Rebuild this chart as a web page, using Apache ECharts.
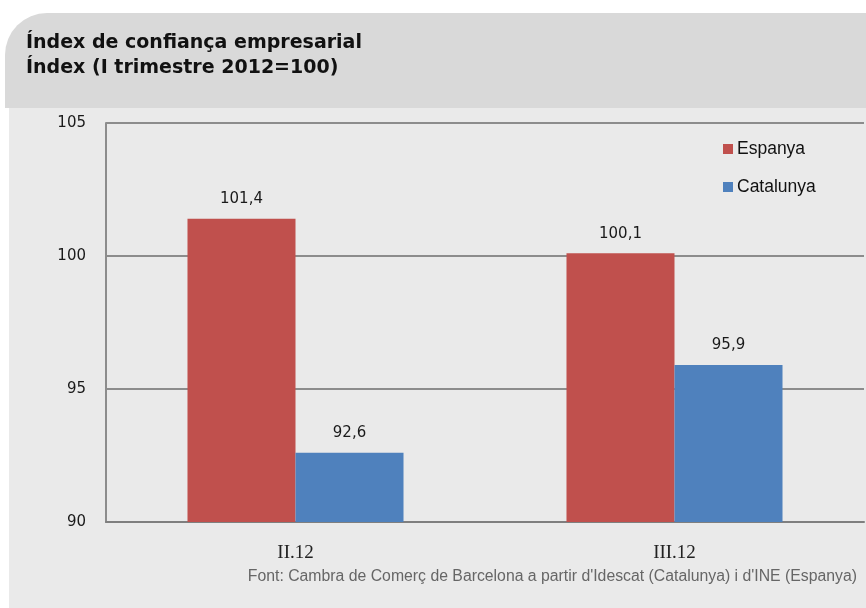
<!DOCTYPE html>
<html><head><meta charset="utf-8">
<script src="https://cdn.jsdelivr.net/npm/echarts@6/dist/echarts.min.js"></script>
<style>html,body{margin:0;padding:0;background:#fff}#c{width:866px;height:608px}</style>
</head><body><div id="c"></div>
<script>
const categories = ['II.12', 'III.12'];
const espanya = [101.4, 100.1];
const catalunya = [92.6, 95.9];
const yTicks = [90, 95, 100, 105];

const chart = echarts.init(document.getElementById('c'));
const lbl = {show: true, position: 'top', distance: 12, color: '#1a1a1a', fontFamily: 'DejaVu Sans', fontSize: 15,
  formatter: p => String(p.value).replace('.', ',')};
chart.setOption({
  animation: false,
  backgroundColor: '#ffffff',
  graphic: [
    {type: 'rect', z: -10, shape: {x: 9, y: 108, width: 857, height: 500}, style: {fill: '#eaeaea'}},
    {type: 'rect', z: -10, shape: {x: 5, y: 13, width: 861, height: 95, r: [42, 0, 0, 0]}, style: {fill: '#d9d9d9'}},
    {type: 'text', right: 9, top: 569, style: {text: "Font: Cambra de Comerç de Barcelona a partir d'Idescat (Catalunya) i d'INE (Espanya)", fill: '#666666', font: '15.8px "Liberation Sans", Arial'}}
  ],
  title: [
    {text: 'Índex de confiança empresarial', left: 21, top: 29, textStyle: {fontFamily: 'DejaVu Sans', fontWeight: 'bold', fontSize: 19, color: '#111'}},
    {text: 'Índex (I trimestre 2012=100)', left: 21, top: 54, textStyle: {fontFamily: 'DejaVu Sans', fontWeight: 'bold', fontSize: 19, color: '#111'}}
  ],
  legend: {
    orient: 'vertical', left: 718, top: 135, itemWidth: 10, itemHeight: 10, itemGap: 20,
    icon: 'rect',
    textStyle: {fontFamily: 'Liberation Sans', fontSize: 17.5, color: '#111', padding: [0, 0, 0, -1]},
    data: ['Espanya', 'Catalunya']
  },
  grid: {left: 106, right: 2, top: 123, bottom: 86},
  xAxis: {
    type: 'category', data: categories,
    axisLine: {lineStyle: {color: '#7f7f7f', width: 2}},
    axisTick: {show: false},
    axisLabel: {margin: 22, fontFamily: 'Liberation Serif', fontSize: 19, color: '#222'}
  },
  yAxis: {
    type: 'value', min: yTicks[0], max: yTicks[yTicks.length - 1], interval: 5,
    axisLine: {show: true, lineStyle: {color: '#8c8c8c', width: 2}},
    axisTick: {show: false},
    axisLabel: {margin: 20, fontFamily: 'DejaVu Sans', fontSize: 15, color: '#1a1a1a'},
    splitLine: {lineStyle: {color: '#8c8c8c', width: 2}}
  },
  series: [
    {name: 'Espanya', type: 'bar', data: espanya, barGap: '0%', barCategoryGap: '43%', itemStyle: {color: '#c0504d'}, label: lbl},
    {name: 'Catalunya', type: 'bar', data: catalunya, itemStyle: {color: '#4f81bd'}, label: lbl}
  ]
});
</script></body></html>
